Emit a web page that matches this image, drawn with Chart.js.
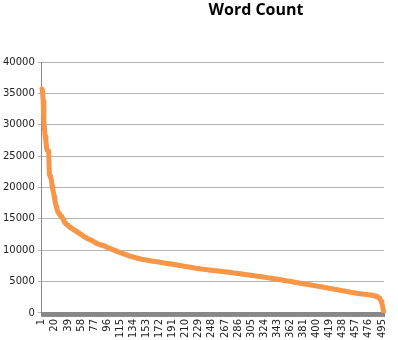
<!DOCTYPE html>
<html>
<head>
<meta charset="utf-8">
<script src="https://cdn.jsdelivr.net/npm/chart.js@4"></script>
<style>
  html, body { margin: 0; padding: 0; background: #fff; }
  #wrap { width: 398px; height: 340px; }
</style>
</head>
<body>
<div id="wrap"><canvas id="myChart"></canvas></div>
<script>
const chartTitle = "Word Count";

// word counts, sorted descending
const wordCounts = [
  35700, 35400, 33800, 30500, 29200, 28100, 27400, 26200, 25900, 25800, 25600, 22100, 21800, 21500, 21200, 20100, 19700, 19200, 18500, 17900,
  17400, 16900, 16600, 16200, 16000, 15800, 15650, 15500, 15400, 15300, 15150, 14900, 14700, 14500, 14300, 14200, 14100, 14000, 13900, 13800,
  13700, 13650, 13550, 13500, 13420, 13350, 13280, 13200, 13150, 13080, 13000, 12920, 12850, 12780, 12700, 12640, 12560, 12500, 12420, 12350,
  12280, 12200, 12120, 12050, 11980, 11920, 11850, 11800, 11760, 11700, 11650, 11600, 11550, 11500, 11450, 11380, 11300, 11240, 11170, 11100,
  11050, 11000, 10960, 10920, 10880, 10850, 10820, 10790, 10760, 10730, 10690, 10640, 10590, 10540, 10490, 10440, 10390, 10340, 10290, 10250,
  10210, 10170, 10120, 10080, 10040, 9990, 9950, 9900, 9860, 9810, 9770, 9730, 9690, 9650, 9610, 9570, 9530, 9490, 9450, 9410,
  9370, 9330, 9290, 9250, 9210, 9170, 9130, 9090, 9050, 9010, 8980, 8950, 8920, 8890, 8860, 8830, 8800, 8770, 8740, 8710,
  8680, 8650, 8620, 8590, 8560, 8540, 8520, 8500, 8480, 8470, 8450, 8430, 8410, 8390, 8370, 8350, 8330, 8310, 8300, 8280,
  8260, 8240, 8230, 8210, 8200, 8190, 8170, 8160, 8140, 8120, 8100, 8080, 8060, 8040, 8020, 8000, 7990, 7970, 7950, 7930,
  7910, 7900, 7880, 7860, 7840, 7830, 7810, 7800, 7790, 7770, 7760, 7740, 7720, 7700, 7680, 7660, 7640, 7620, 7600, 7580,
  7560, 7540, 7520, 7500, 7490, 7470, 7450, 7430, 7410, 7400, 7380, 7360, 7340, 7320, 7300, 7290, 7270, 7250, 7230, 7210,
  7200, 7180, 7160, 7140, 7120, 7110, 7090, 7070, 7050, 7040, 7020, 7010, 6990, 6980, 6960, 6950, 6940, 6920, 6910, 6900,
  6880, 6870, 6860, 6840, 6830, 6810, 6800, 6790, 6770, 6760, 6750, 6740, 6720, 6710, 6700, 6690, 6670, 6660, 6650, 6640,
  6620, 6610, 6600, 6590, 6570, 6560, 6550, 6540, 6530, 6510, 6500, 6490, 6470, 6460, 6440, 6430, 6410, 6400, 6380, 6370,
  6350, 6340, 6320, 6310, 6290, 6280, 6260, 6250, 6230, 6220, 6200, 6190, 6170, 6160, 6140, 6130, 6110, 6100, 6080, 6070,
  6050, 6040, 6020, 6010, 5990, 5980, 5960, 5950, 5930, 5920, 5900, 5890, 5870, 5860, 5840, 5830, 5810, 5800, 5780, 5770,
  5750, 5730, 5710, 5700, 5680, 5660, 5640, 5630, 5610, 5590, 5570, 5560, 5540, 5520, 5500, 5490, 5470, 5450, 5430, 5420,
  5400, 5380, 5360, 5340, 5330, 5310, 5290, 5270, 5250, 5230, 5220, 5200, 5180, 5160, 5140, 5120, 5110, 5090, 5070, 5050,
  5030, 5010, 4990, 4970, 4950, 4930, 4910, 4890, 4870, 4850, 4830, 4810, 4790, 4780, 4760, 4740, 4720, 4700, 4680, 4660,
  4640, 4620, 4610, 4590, 4570, 4550, 4530, 4510, 4490, 4470, 4460, 4440, 4420, 4400, 4390, 4370, 4350, 4330, 4310, 4290,
  4270, 4250, 4230, 4210, 4190, 4170, 4150, 4130, 4110, 4090, 4070, 4050, 4030, 4010, 3990, 3970, 3950, 3930, 3910, 3890,
  3870, 3850, 3830, 3810, 3790, 3770, 3750, 3730, 3710, 3690, 3670, 3650, 3630, 3610, 3590, 3570, 3550, 3530, 3510, 3490,
  3470, 3450, 3430, 3410, 3390, 3370, 3350, 3330, 3310, 3290, 3270, 3250, 3230, 3210, 3190, 3170, 3150, 3130, 3110, 3100,
  3080, 3070, 3050, 3040, 3030, 3010, 3000, 2990, 2980, 2970, 2950, 2940, 2930, 2920, 2900, 2890, 2870, 2860, 2840, 2820,
  2800, 2780, 2750, 2720, 2680, 2640, 2590, 2560, 2500, 2430, 2340, 2220, 2050, 1800, 1450, 1000, 450, 30
];

// categories are just the rank 1..n
const ranks = wordCounts.map((v, i) => String(i + 1));
const labelStep = 19;

const yMin = 0, yMax = 40000, yStep = 5000;

// title sits right of the plot centre, like the original
const titlePlugin = {
  id: "offsetTitle",
  afterDraw(chart) {
    const c = chart.ctx;
    c.save();
    c.font = "bold 16px 'Open Sans'";
    c.fillStyle = "#000";
    c.textAlign = "center";
    c.textBaseline = "alphabetic";
    c.fillText(chartTitle, 256, 15);
    c.restore();
  },
};

var ctx = document.getElementById("myChart").getContext("2d");

var myChart = new Chart(ctx, {
  type: "line",
  data: {
    labels: ranks,
    datasets: [
      {
        label: chartTitle,
        data: wordCounts,
        borderColor: "#F79646",
        backgroundColor: "#F79646",
        borderWidth: 5,
        pointRadius: 0,
        tension: 0,
        borderJoinStyle: "round",
        borderCapStyle: "round",
      },
    ],
  },
  options: {
    responsive: true,
    maintainAspectRatio: false,
    animation: false,
    layout: { padding: { top: 62, right: 4, bottom: 0, left: 0 } },
    plugins: {
      legend: { display: false },
      tooltip: { enabled: false },
      title: { display: false },
    },
    scales: {
      x: {
        offset: false,
        border: { color: "#888", width: 1 },
        grid: { drawOnChartArea: false, drawTicks: true, tickLength: 4, color: "#888" },
        ticks: {
          autoSkip: false,
          maxRotation: 90,
          minRotation: 90,
          padding: 2,
          color: "#222",
          font: { family: "'DejaVu Sans'", size: 10 },
          callback: function (val, index) {
            return index % labelStep === 0 ? this.getLabelForValue(val) : "";
          },
        },
      },
      y: {
        min: yMin,
        max: yMax,
        border: { color: "#888", width: 1 },
        grid: { color: "#b4b4b4", tickLength: 4 },
        ticks: {
          stepSize: yStep,
          padding: 3,
          color: "#222",
          font: { family: "'DejaVu Sans'", size: 10 },
          callback: (v) => String(v),
        },
      },
    },
  },
  plugins: [titlePlugin],
});
</script>
</body>
</html>
